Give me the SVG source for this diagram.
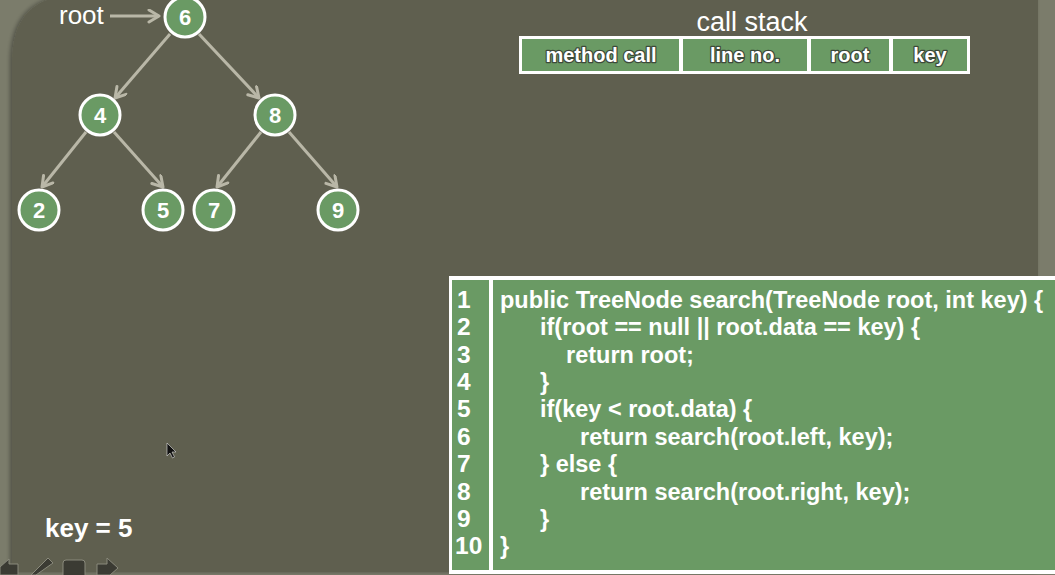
<svg xmlns="http://www.w3.org/2000/svg" width="1055" height="575" viewBox="0 0 1055 575">
  <style>
    .node circle { fill: #6a9a64; stroke: #ffffff; stroke-width: 3; }
    .node text { fill: #ffffff; font-family: "Liberation Sans", Arial, sans-serif; font-weight: bold; font-size: 22px; text-anchor: middle; }
    .edge { stroke: #b9b7a7; stroke-width: 3; fill: none; marker-end: url(#chev); }
    .hdr { fill: #ffffff; font-family: "Liberation Sans", Arial, sans-serif; font-weight: bold; font-size: 20px; text-anchor: middle; stroke: #3d4a3a; stroke-width: 2.5; paint-order: stroke; stroke-linejoin: round; }
    .cell { fill: #6a9a64; }
    .code { fill: #ffffff; font-family: "Liberation Sans", Arial, sans-serif; font-weight: bold; font-size: 23.5px; }
    .num { fill: #ffffff; font-family: "Liberation Sans", Arial, sans-serif; font-weight: bold; font-size: 24.5px; }
    .lbl { fill: #ffffff; font-family: "Liberation Sans", Arial, sans-serif; }
  </style>
  <defs>
    <marker id="chev" markerUnits="userSpaceOnUse" markerWidth="16" markerHeight="16" refX="12" refY="7" orient="auto">
      <path d="M2,1 L12,7 L2,13" fill="none" stroke="#b9b7a7" stroke-width="3" stroke-linecap="round" stroke-linejoin="round"/>
    </marker>
    <filter id="sh" x="-5%" y="-5%" width="110%" height="110%">
      <feDropShadow dx="-2" dy="0" stdDeviation="2" flood-color="#000" flood-opacity="0.35"/>
    </filter>
  </defs>

  <!-- background -->
  <rect x="0" y="0" width="1055" height="575" fill="#7b7c6b"/>
  <path d="M12,575 L12,62 Q12,-5 78,-5 L1038,-5 L1038,572 L12,572 Z" fill="#5f5f4f" filter="url(#sh)"/>

  <!-- connectors -->
  <g id="connectors">
    <line class="edge" x1="110" y1="16" x2="159" y2="16"/>
    <line class="edge" x1="170" y1="34" x2="115" y2="98"/>
    <line class="edge" x1="199" y1="34" x2="259" y2="98"/>
    <line class="edge" x1="86" y1="132" x2="42" y2="187"/>
    <line class="edge" x1="114" y1="132" x2="163" y2="187"/>
    <line class="edge" x1="261" y1="132" x2="217" y2="187"/>
    <line class="edge" x1="289" y1="132" x2="337" y2="187"/>
  </g>

  <!-- root label -->
  <g id="root-label">
    <text class="lbl" x="59" y="24" font-size="26">root</text>
  </g>

  <!-- tree nodes -->
  <g id="n6" class="node"><circle cx="185" cy="17" r="20"/><text x="185" y="25">6</text></g>
  <g id="n4" class="node"><circle cx="100" cy="115" r="20"/><text x="100" y="123">4</text></g>
  <g id="n8" class="node"><circle cx="275" cy="115" r="20"/><text x="275" y="123">8</text></g>
  <g id="n2" class="node"><circle cx="39" cy="210" r="20"/><text x="39" y="218">2</text></g>
  <g id="n5" class="node"><circle cx="163" cy="210" r="20"/><text x="163" y="218">5</text></g>
  <g id="n7" class="node"><circle cx="214" cy="210" r="20"/><text x="214" y="218">7</text></g>
  <g id="n9" class="node"><circle cx="338" cy="210" r="20"/><text x="338" y="218">9</text></g>

  <!-- call stack -->
  <g id="call-stack">
    <text class="lbl" x="752" y="31" font-size="27" text-anchor="middle">call stack</text>
    <rect x="519" y="36" width="451" height="38" fill="#ffffff"/>
    <rect class="cell" x="522" y="39" width="157" height="32"/>
    <rect class="cell" x="683" y="39" width="124" height="32"/>
    <rect class="cell" x="811" y="39" width="78" height="32"/>
    <rect class="cell" x="893" y="39" width="74" height="32"/>
    <text class="hdr" x="601" y="62">method call</text>
    <text class="hdr" x="745" y="62">line no.</text>
    <text class="hdr" x="850" y="62">root</text>
    <text class="hdr" x="930" y="62">key</text>
  </g>

  <!-- code block -->
  <g id="code">
    <rect x="449" y="276" width="610" height="298" fill="#ffffff"/>
    <rect class="cell" x="452" y="280" width="37" height="290"/>
    <rect class="cell" x="493" y="280" width="566" height="290"/>
    <g class="num">
      <text x="457" y="308">1</text>
      <text x="457" y="335">2</text>
      <text x="457" y="363">3</text>
      <text x="457" y="390">4</text>
      <text x="457" y="417">5</text>
      <text x="457" y="445">6</text>
      <text x="457" y="472">7</text>
      <text x="457" y="500">8</text>
      <text x="457" y="527">9</text>
      <text x="455" y="554">10</text>
    </g>
    <g class="code">
      <text x="500" y="308">public TreeNode search(TreeNode root, int key) {</text>
      <text x="540" y="335">if(root == null || root.data == key) {</text>
      <text x="566" y="363">return root;</text>
      <text x="540" y="390">}</text>
      <text x="540" y="417">if(key &lt; root.data) {</text>
      <text x="580" y="445">return search(root.left, key);</text>
      <text x="540" y="472">} else {</text>
      <text x="580" y="500">return search(root.right, key);</text>
      <text x="540" y="527">}</text>
      <text x="500" y="554">}</text>
    </g>
  </g>

  <!-- key label -->
  <g id="key-label">
    <text class="lbl" x="45" y="537" font-size="26" font-weight="bold">key = 5</text>
  </g>

  <!-- cursor -->
  <path d="M167,443 L167,456 L170,453 L172.5,458 L174.5,457 L172,452 L176,452 Z" fill="#111" stroke="#ddd" stroke-width="0.6"/>

  <!-- player toolbar icons -->
  <g id="toolbar" fill="#3b3b33" stroke="#8a8a7c" stroke-width="1">
    <path d="M0,567 L9,559 L9,564 L18,564 L18,575 L0,575 Z"/>
    <path d="M31,575 L48,558 L53,563 L36,575 Z"/>
    <rect x="63" y="560" width="22" height="18" rx="3"/>
    <path d="M97,564 L107,564 L107,558 L118,568 L110,575 L97,575 Z"/>
  </g>
</svg>
